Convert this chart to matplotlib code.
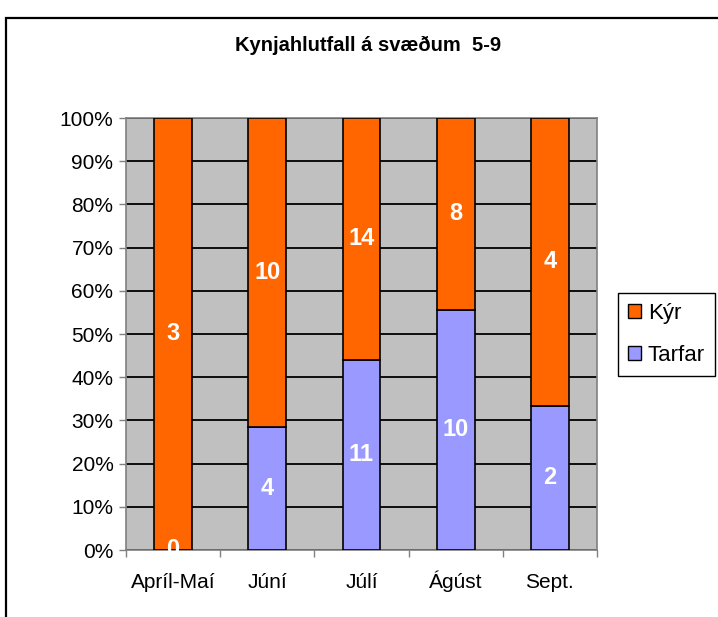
import numpy as np
import matplotlib.pyplot as plt
from matplotlib.patches import Rectangle, Patch

plt.rcParams['font.family'] = ['Liberation Sans', 'DejaVu Sans']

# data
months = ['Apríl-Maí', 'Júní', 'Júlí', 'Ágúst', 'Sept.']
tarfar = np.array([0, 4, 11, 10, 2])
kyr = np.array([3, 10, 14, 8, 4])
yticks = [0, 10, 20, 30, 40, 50, 60, 70, 80, 90, 100]

orange = '#FF6600'
purple = '#9999FF'

total = tarfar + kyr
tarfar_pct = tarfar / total * 100
kyr_pct = kyr / total * 100

W, H = 718, 617
fig = plt.figure(figsize=(W / 100, H / 100), dpi=100)

# outer chart frame (cut off at right and bottom)
fig.patches.append(Rectangle((6 / W, -0.1), 1.2, 1 - 18 / H + 0.1, transform=fig.transFigure,
                             fill=False, edgecolor='black', linewidth=1.6))

ax = fig.add_axes([126 / W, 1 - 550 / H, 471 / W, 432 / H])
ax.set_facecolor('#C0C0C0')

x = np.arange(len(months))
ax.bar(x, tarfar_pct, width=0.4, color=purple, edgecolor='black', linewidth=1.2, zorder=3)
ax.bar(x, kyr_pct, width=0.4, bottom=tarfar_pct, color=orange, edgecolor='black', linewidth=1.2, zorder=3)

# value labels in the middle of each segment
for i in range(len(months)):
    ax.text(x[i], tarfar_pct[i] / 2, str(tarfar[i]), ha='center', va='center',
            color='white', fontsize=17, fontweight='bold', zorder=4)
    ax.text(x[i], tarfar_pct[i] + kyr_pct[i] / 2, str(kyr[i]), ha='center', va='center',
            color='white', fontsize=17, fontweight='bold', zorder=4)

ax.set_xlim(-0.5, len(months) - 0.5)
ax.set_ylim(0, 100)
ax.set_yticks(yticks)
ax.set_yticklabels([f'{t}%' for t in yticks], fontsize=15)
ax.yaxis.grid(True, color='black', linewidth=1.3, zorder=1)
ax.set_axisbelow(True)

ax.set_xticks(np.arange(len(months) + 1) - 0.5)
ax.set_xticklabels([])
ax.set_xticks(x, minor=True)
ax.set_xticklabels(months, minor=True, fontsize=15)
for lbl in ax.get_xticklabels(minor=True):
    lbl.set_verticalalignment('baseline')
ax.tick_params(axis='x', which='minor', length=0, pad=27)
ax.tick_params(axis='both', which='major', length=5, width=1, color='#808080', direction='out')
ax.tick_params(axis='y', pad=4)

for s in ax.spines.values():
    s.set_color('#808080')
    s.set_linewidth(1.2)

fig.text(368 / W, 1 - 45 / H, 'Kynjahlutfall á svæðum  5-9', ha='center', va='center',
         fontsize=14.5, fontweight='bold')

handles = [Patch(facecolor=orange, edgecolor='black', label='Kýr'),
           Patch(facecolor=purple, edgecolor='black', label='Tarfar')]
fig.legend(handles=handles, loc='upper left', bbox_to_anchor=(618 / W, 1 - 293 / H),
           fontsize=16, frameon=True, fancybox=False, edgecolor='black', framealpha=1,
           handlelength=0.6, handleheight=0.6, handletextpad=0.3, borderpad=0.45,
           labelspacing=0.95, borderaxespad=0)

fig.savefig('out.png', dpi=100)
